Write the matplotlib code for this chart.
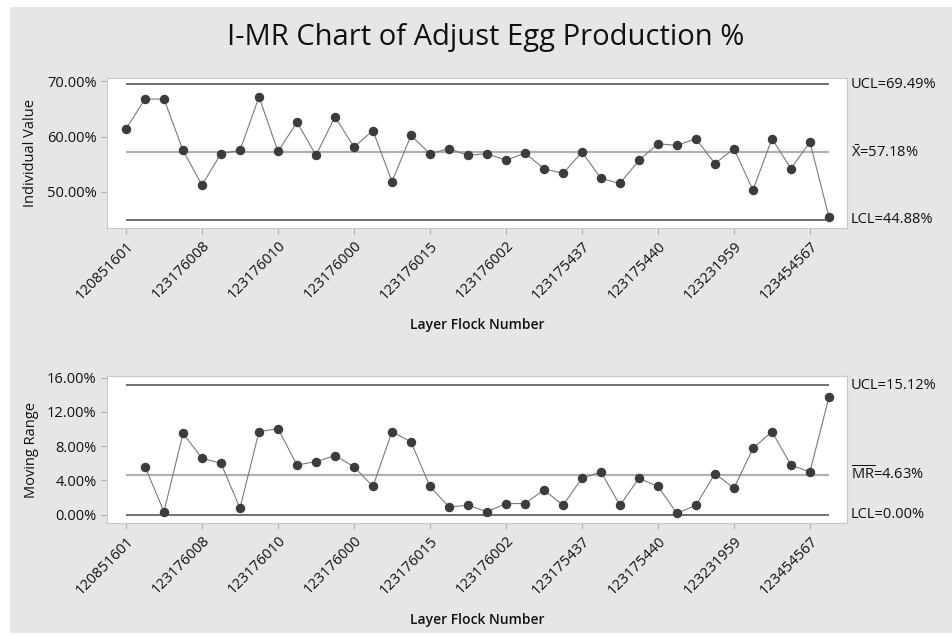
import numpy as np
import matplotlib
matplotlib.use("Agg")
import matplotlib.pyplot as plt
from matplotlib.patches import Rectangle

plt.rcParams['font.family'] = ['Open Sans', 'DejaVu Sans']
plt.rcParams['mathtext.fontset'] = 'custom'
plt.rcParams['mathtext.rm'] = 'Open Sans'

# individual values (%), 38 flocks
indiv = [61.4, 66.8, 66.8, 57.5, 51.2, 56.9, 57.5, 67.2, 57.3, 62.6,
         56.6, 63.6, 58.1, 61.1, 51.8, 60.2, 56.9, 57.8, 56.6, 56.9,
         55.7, 57.0, 54.2, 53.3, 57.2, 52.4, 51.5, 55.7, 58.7, 58.4,
         59.6, 55.1, 57.8, 50.3, 59.6, 54.2, 59.0, 45.4]
# moving ranges (%), starting at flock 2
mr = [5.6, 0.35, 9.5, 6.6, 6.0, 0.75, 9.7, 10.05, 5.8, 6.2,
      6.9, 5.6, 3.3, 9.7, 8.5, 3.3, 0.9, 1.1, 0.35, 1.3,
      1.3, 2.9, 1.1, 4.25, 5.0, 1.1, 4.25, 3.3, 0.16, 1.1,
      4.8, 3.1, 7.75, 9.7, 5.8, 5.0, 13.75]
tick_labels = ['120851601', '123176008', '123176010', '123176000', '123176015',
               '123176002', '123175437', '123175440', '123231959', '123454567']

i_ucl, i_mean, i_lcl = 69.49, 57.18, 44.88
mr_ucl, mr_mean, mr_lcl = 15.12, 4.63, 0.00

bg = '#e6e6e6'
fig = plt.figure(figsize=(9.52, 6.36), dpi=100)
fig.patch.set_facecolor('white')
fig.patches.append(Rectangle((10/952, 3/636), 1, 1 - 3/636 - 7/636, transform=fig.transFigure,
                             facecolor=bg, edgecolor='none', zorder=-10))

fig.text(486/952, 1 - 37/636, 'I-MR Chart of Adjust Egg Production %',
         ha='center', va='center', fontsize=21, color='#111111')


def panel(rect, xs, ys, ucl, mean, lcl, ylim, yticks, ylabel, labels, lab_y):
    ax = fig.add_axes(rect)
    ax.set_facecolor('white')
    n = len(indiv)
    ax.hlines([ucl, lcl], 0, n - 1, color='#4a4a4a', lw=1.1, zorder=1)
    ax.hlines(mean, 0, n - 1, color='#b0b0b0', lw=1.6, zorder=1)
    ax.plot(xs, ys, color='#7a7a7a', lw=0.8, zorder=2)
    ax.plot(xs, ys, 'o', color='#3c3c3c', ms=5.8, zorder=3)
    ax.set_xlim(-1, 37.95)
    ax.set_ylim(*ylim)
    ax.set_yticks(yticks)
    ax.set_yticklabels(['%.2f%%' % v for v in yticks], fontsize=10.5, color='#111111')
    ax.set_xticks(range(0, n, 4))
    ax.set_xticklabels(tick_labels, rotation=45, ha='right', rotation_mode='anchor',
                       fontsize=10.5, color='#111111')
    for s in ax.spines.values():
        s.set_color('#c8c8c8')
    ax.tick_params(axis='both', direction='out', color='#b0b0b0', length=4)
    ax.set_ylabel(ylabel, fontsize=10.5, color='#111111', labelpad=6)
    ax.set_xlabel('Layer Flock Number', fontsize=10, fontweight='semibold', color='#111111')
    ax.xaxis.set_label_coords(0.5, lab_y)
    for val, txt in zip([ucl, mean, lcl], labels):
        ax.text(1.005, val, txt, transform=ax.get_yaxis_transform(),
                ha='left', va='center', fontsize=10.5, color='#111111')
    return ax


x_i = np.arange(len(indiv))
x_mr = np.arange(1, len(indiv))

panel([107/952, 1 - 228/636, 740/952, 150/636], x_i, indiv, i_ucl, i_mean, i_lcl,
      (43.41, 70.63), [50, 60, 70], 'Individual Value',
      ['UCL=%.2f%%' % i_ucl, r'$\bar{\mathrm{X}}$=%.2f%%' % i_mean, 'LCL=%.2f%%' % i_lcl],
      -0.60)

panel([107/952, 1 - 523/636, 740/952, 147/636], x_mr, mr, mr_ucl, mr_mean, mr_lcl,
      (-0.97, 16.2), [0, 4, 8, 12, 16], 'Moving Range',
      ['UCL=%.2f%%' % mr_ucl, r'$\overline{\mathrm{MR}}$=%.2f%%' % mr_mean, 'LCL=%.2f%%' % mr_lcl],
      -0.61)

fig.savefig('out.png', dpi=100, facecolor=fig.get_facecolor())
